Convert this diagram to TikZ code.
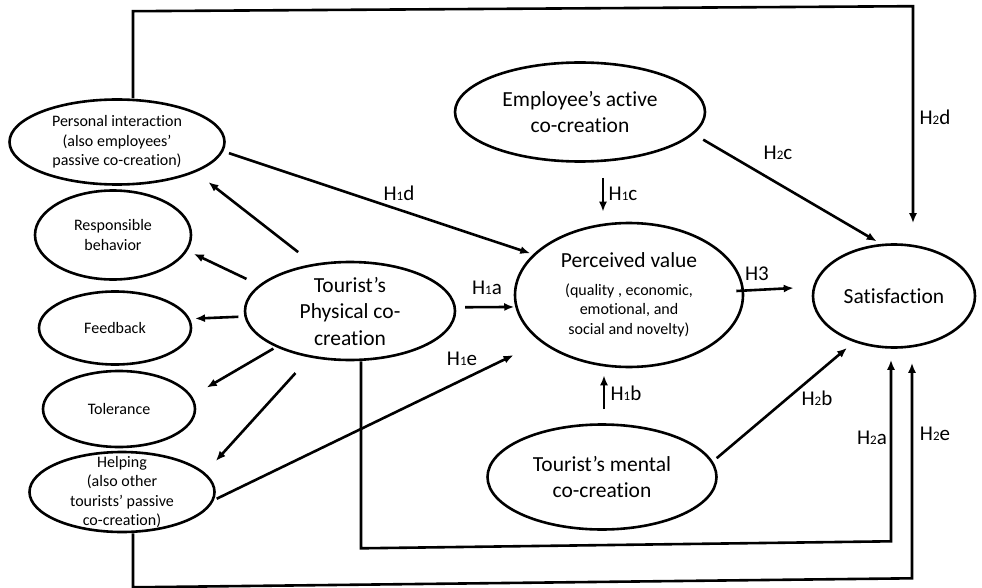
\documentclass[tikz,border=0pt]{standalone}
\usepackage{fontspec}
\setmainfont{Carlito}[Ligatures={NoCommon}]
\usepackage{tikz}
\usetikzlibrary{shapes.geometric, arrows.meta}
\tikzstyle{construct}=[ellipse, draw, line width=2.6pt, inner sep=0pt]
\tikzstyle{link}=[line width=2.6pt, -{Latex[length=10pt, width=8pt]}]
\tikzstyle{hyplabel}=[font=\fontsize{21}{21}\selectfont, inner sep=0pt]
\tikzstyle{smalltext}=[align=center, font=\fontsize{16}{19.5}\selectfont]
\tikzstyle{bigtext}=[align=center, font=\fontsize{21.5}{26.5}\selectfont]
\newcommand{\hname}[2]{H{\fontsize{13}{13}\selectfont #1}#2}

\begin{document}
\begin{tikzpicture}[x=1pt, y=-1pt]
    \useasboundingbox (0,0) rectangle (982,588);
    % forms of physical co-creation
    \node[construct, minimum width=215, minimum height=85,
        label={[smalltext]center:{Personal interaction\\(also employees’\\passive co-creation)}}] (pi) at (117,142) {};
    \node[construct, minimum width=156, minimum height=89,
        label={[smalltext]center:{Responsible\\behavior}}] (rb) at (113,235) {};
    \node[construct, minimum width=152, minimum height=73,
        label={[smalltext]center:{Feedback}}] (fb) at (115,328) {};
    \node[construct, minimum width=152, minimum height=76,
        label={[smalltext]center:{Tolerance}}] (tol) at (119,409) {};
    \node[construct, minimum width=185, minimum height=80,
        label={[smalltext]center:{Helping\\(also other\\tourists’ passive\\co-creation)}}] (help) at (122,492) {};
    % main constructs
    \node[construct, minimum width=210, minimum height=98,
        label={[bigtext]center:{Tourist’s\\Physical co-\\creation}}] (phys) at (350,311) {};
    \node[construct, minimum width=250, minimum height=99,
        label={[bigtext]center:{Employee’s active\\co-creation}}] (emp) at (580,112) {};
    \node[construct, minimum width=228, minimum height=144,
        label={[smalltext]center:{{\fontsize{21.5}{26.5}\selectfont Perceived value}\\[8pt](quality , economic,\\emotional, and\\social and novelty)}}] (pv) at (629,295) {};
    \node[construct, minimum width=229, minimum height=105,
        label={[bigtext]center:{Tourist’s mental\\co-creation}}] (mental) at (602,477) {};
    \node[construct, minimum width=162, minimum height=103,
        label={[bigtext]center:{Satisfaction}}] (sat) at (894,296) {};

    \draw[link, shorten <=19, shorten >=16] (phys.128) -- (pi.-21);
    \draw[link, shorten <=14, shorten >=7] (phys.164) -- (rb.-12);
    \draw[link, shorten <=6, shorten >=5] (phys.183) -- (fb.7);
    \draw[link, shorten <=3, shorten >=17] (phys.206) -- (tol.10);
    \draw[link, shorten <=21, shorten >=16] (phys.229) -- (help.13);

    \draw[link, shorten <=6, shorten >=3] (pi.-5) -- (pv.157);
    \draw[link, shorten <=3, shorten >=30] (help.-5) -- (pv.208);
    \draw[link, shorten <=9, shorten >=1] (phys.2) -- (pv.186);
    \draw[link] ([shift={(23,15)}]emp.south) -- ([shift={(-26,-10)}]pv.north);
    \draw[link] ([shift={(2,-14)}]mental.north) -- ([shift={(-25,7)}]pv.south);
    \draw[link, shorten <=11, shorten >=5] (emp.-11) -- (sat.104);
    \draw[link] ([shift={(-8,-4)}]pv.east) -- ([shift={(-18,-8)}]sat.west);
    \draw[link, shorten <=5, shorten >=9] (mental.8.5) -- (sat.229);

    % long paths round the picture
    \draw[link] ([shift={(16,0)}]pi.north) -- ++(0,-87) -- ++(780,-5)
        -- ([shift={(19,-20)}]sat.north);
    \draw[link] ([shift={(11,0)}]help.south) -- ++(0,54) -- ++(779,-9)
        -- ([shift={(18,14)}]sat.south);
    \draw[link] ([shift={(11,0)}]phys.south) -- ++(0,187) -- ++(530,-7)
        -- ([shift={(-3,11)}]sat.south);

    \node[hyplabel] (h1d) at (399,193) {\hname1d};
    \node[hyplabel] (h1a) at (487,288) {\hname1a};
    \node[hyplabel] (h1e) at (462,359) {\hname1e};
    \node[hyplabel] (h1c) at (623,194) {\hname1c};
    \node[hyplabel] (h1b) at (626,393) {\hname1b};
    \node[hyplabel] (h2c) at (778,153) {\hname2c};
    \node[hyplabel] (h2d) at (935,117) {\hname2d};
    \node[hyplabel] (h3) at (757,274) {H3};
    \node[hyplabel] (h2b) at (817,398) {\hname2b};
    \node[hyplabel] (h2a) at (872,438) {\hname2a};
    \node[hyplabel] (h2e) at (935,434) {\hname2e};
\end{tikzpicture}
\end{document}
